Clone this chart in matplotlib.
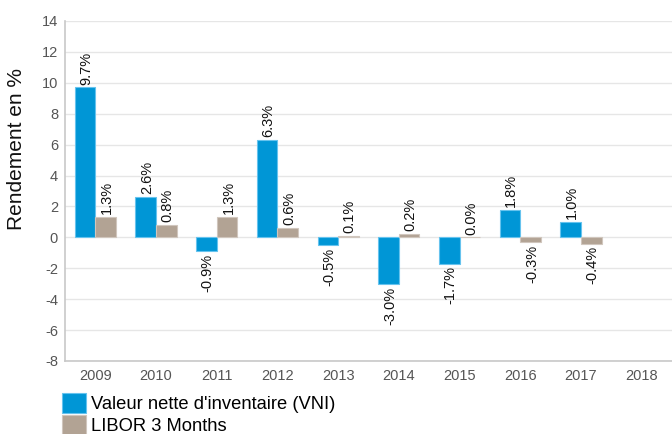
import numpy as np
import matplotlib
matplotlib.use('Agg')
import matplotlib.pyplot as plt

plt.rcParams['font.family'] = ['Liberation Sans', 'DejaVu Sans']
plt.rcParams['axes.unicode_minus'] = False

# Data
years = ['2009', '2010', '2011', '2012', '2013', '2014', '2015', '2016', '2017', '2018']
vni = [9.7, 2.6, -0.9, 6.3, -0.5, -3.0, -1.7, 1.8, 1.0, None]
libor = [1.3, 0.8, 1.3, 0.6, 0.1, 0.2, 0.0, -0.3, -0.4, None]
series_names = ["Valeur nette d'inventaire (VNI)", 'LIBOR 3 Months']
colors = ['#0096d6', '#b2a394']
edge_colors = ['#66c3ee', '#d0c6bd']

fig = plt.figure(figsize=(6.72, 4.34), dpi=100)
ax = fig.add_axes([65 / 672, 1 - 361 / 434, 1 - 65 / 672, (361 - 21) / 434])

x = np.arange(len(years))
width = 0.34
offsets = [-0.17, 0.17]

handles = []
for vals, off, col, ecol, name in zip([vni, libor], offsets, colors, edge_colors, series_names):
    xs = [xi + off for xi, v in zip(x, vals) if v is not None]
    vs = [v for v in vals if v is not None]
    bars = ax.bar(xs, vs, width=width, color=col, edgecolor=ecol, linewidth=0.8,
                  label=name, zorder=3)
    handles.append(bars)
    for xi, v in zip(xs, vs):
        if v >= 0:
            ax.annotate(f'{v:.1f}%', (xi, v), xytext=(1, 2), textcoords='offset points',
                        ha='center', va='bottom', rotation=90, fontsize=10.5, color='#111111')
        else:
            ax.annotate(f'{v:.1f}%', (xi, v), xytext=(1, -2), textcoords='offset points',
                        ha='center', va='top', rotation=90, fontsize=10.5, color='#111111')

ax.set_xlim(-0.5, len(years) - 0.5)
ax.set_ylim(-8, 14)
ax.set_yticks(np.arange(-8, 15, 2))
ax.set_xticks(x)
ax.set_xticklabels(years)
ax.tick_params(axis='both', length=0, labelsize=10.5, colors='#555555')
ax.tick_params(axis='x', pad=6)
ax.tick_params(axis='y', pad=5)
ax.grid(axis='y', color='#e6e6e6', linewidth=1, zorder=0)
ax.set_axisbelow(True)
for s in ['top', 'right']:
    ax.spines[s].set_visible(False)
for s in ['left', 'bottom']:
    ax.spines[s].set_color('#c8c8c8')
    ax.spines[s].set_linewidth(1.2)

fig.text(17 / 672, 1 - 149 / 434, 'Rendement en %', rotation=90, ha='center', va='center',
         fontsize=15, color='#111111')

fig.legend(handles=handles, labels=series_names, loc='upper left',
           bbox_to_anchor=(62 / 672, 1 - 393 / 434), frameon=False, fontsize=13.2,
           handlelength=1.3, handleheight=1.3, handletextpad=0.3, labelspacing=0.12,
           borderpad=0, borderaxespad=0)

fig.savefig('out.png', dpi=100)
